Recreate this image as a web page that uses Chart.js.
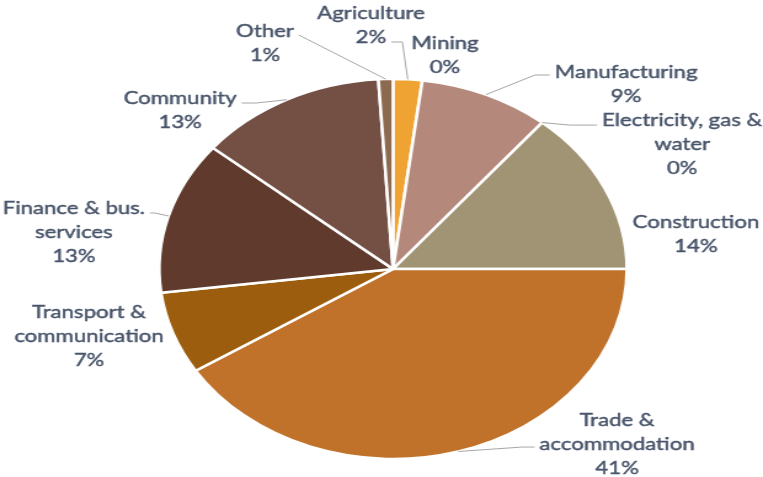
<!DOCTYPE html>
<html lang="en">
<head>
<meta charset="UTF-8">
<title>Employment by sector</title>
<script src="https://cdn.jsdelivr.net/npm/chart.js"></script>
<style>
  body { margin: 0; background: #ffffff; overflow: hidden; }
  /* the pie is drawn round, then widened to the oval shape */
  .wrap { width: 620px; height: 477px; transform: scaleX(1.2306); transform-origin: 0 0; }
</style>
</head>
<body>
<div class="wrap"><canvas id="sectorPie" width="620" height="477"></canvas></div>
<script>
const sectors = [
  'Agriculture', 'Mining', 'Manufacturing', ['Electricity, gas &', 'water'],
  'Construction', ['Trade &', 'accommodation'], ['Transport &', 'communication'],
  ['Finance & bus.', 'services'], 'Community', 'Other'
];
const shares = [2, 0, 9, 0, 14, 41, 7, 13, 13, 1];
const sliceColors = [
  '#eea332', '#c89a5a', '#b5887c', '#9e9070', '#a09474',
  '#c0722a', '#9c5e0e', '#5f3a2d', '#744f44', '#8c6a50'
];

// label centre relative to the outer edge of its slice (unstretched px)
const labelOffsets = [
  [-29.8, -66.4], [18.4, -37.5], [113.9, -22.6], [113.8, -2.5], [74.2, 33.9],
  [129, -31.4], [-68.3, -21.4], [-76.9, -8], [-86.8, -1.7], [-98.1, -48.1]
];
// leader line: side of the label, text row it leaves from, y shift, flat stub
const leaders = [
  { side: 'right', row: 1, dy: 5, stub: 9 },
  null,
  { side: 'left', row: 0, dy: 3, stub: 12 },
  { side: 'left', row: 0, dy: 5, stub: 22 },
  null,
  { side: 'left', row: 1, dy: 3, stub: 10 },
  null,
  { side: 'right', row: 0, dy: 5, stub: 4 },
  { side: 'right', row: 0, dy: 5, stub: 12 },
  { side: 'right', row: 0, dy: 4, stub: 0 }
];

const lineHeight = 24;

const sliceLabels = {
  id: 'sliceLabels',
  afterDatasetsDraw(chart) {
    const ctx = chart.ctx;
    const arcs = chart.getDatasetMeta(0).data;
    const total = shares.reduce((a, b) => a + b, 0);
    ctx.save();
    ctx.font = '18px Lato';
    ctx.textAlign = 'center';
    ctx.textBaseline = 'middle';
    arcs.forEach((arc, i) => {
      const mid = (arc.startAngle + arc.endAngle) / 2;
      const ex = arc.x + Math.cos(mid) * arc.outerRadius;
      const ey = arc.y + Math.sin(mid) * arc.outerRadius;
      const lx = ex + labelOffsets[i][0];
      const ly = ey + labelOffsets[i][1];
      const lines = [].concat(sectors[i], Math.round(shares[i] / total * 100) + '%');

      // a hairline stroke gives the text a little more weight
      ctx.fillStyle = '#48546a';
      ctx.strokeStyle = '#48546a';
      ctx.lineWidth = 0.45;
      lines.forEach((t, k) => {
        ctx.fillText(t, lx, ly + k * lineHeight);
        ctx.strokeText(t, lx, ly + k * lineHeight);
      });

      const lead = leaders[i];
      if (lead) {
        const w = ctx.measureText(lines[lead.row]).width;
        const dir = lead.side === 'left' ? -1 : 1;
        const sx = lx + dir * (w / 2 + 4);
        const sy = ly + lead.row * lineHeight + lead.dy;
        ctx.strokeStyle = '#a6a6a6';
        ctx.lineWidth = 1;
        ctx.beginPath();
        ctx.moveTo(sx, sy);
        ctx.lineTo(sx + dir * lead.stub, sy);
        ctx.lineTo(ex, ey);
        ctx.stroke();
      }
    });
    ctx.restore();
  }
};

new Chart(document.getElementById('sectorPie'), {
  type: 'pie',
  data: {
    labels: sectors,
    datasets: [{
      data: shares,
      backgroundColor: sliceColors,
      borderColor: '#ffffff',
      borderWidth: 2.5
    }]
  },
  options: {
    responsive: false,
    devicePixelRatio: 1,
    animation: false,
    radius: 190,
    layout: { padding: { left: 129.4, right: 110.6, top: 79, bottom: 18 } },
    plugins: {
      legend: { display: false },
      tooltip: { enabled: false }
    }
  },
  plugins: [sliceLabels]
});
</script>
</body>
</html>
